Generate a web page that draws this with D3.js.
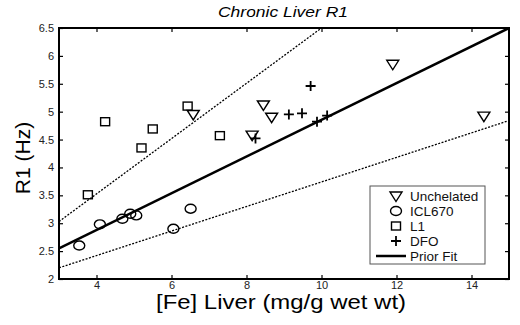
<!DOCTYPE html>
<html>
<head>
<meta charset="utf-8">
<script src="https://cdn.jsdelivr.net/npm/d3@7"></script>
<style>
  body { margin: 0; background: #fff; }
  svg { display: block; font-family: "Liberation Sans", Arial, sans-serif; }
  .tick text { fill: #222; font-size: 11px; }
</style>
</head>
<body>
<div id="chart"></div>
<script>
// data
const unchelated = [
  { fe: 6.58, r1: 4.95 }, { fe: 8.15, r1: 4.58 }, { fe: 8.45, r1: 5.12 },
  { fe: 8.67, r1: 4.90 }, { fe: 11.9, r1: 5.85 }, { fe: 14.33, r1: 4.92 }
];
const icl670 = [
  { fe: 3.54, r1: 2.60 }, { fe: 4.09, r1: 2.98 }, { fe: 4.69, r1: 3.08 },
  { fe: 4.90, r1: 3.17 }, { fe: 5.06, r1: 3.14 }, { fe: 6.05, r1: 2.90 },
  { fe: 6.51, r1: 3.26 }
];
const l1 = [
  { fe: 3.77, r1: 3.51 }, { fe: 4.23, r1: 4.82 }, { fe: 5.20, r1: 4.35 },
  { fe: 5.50, r1: 4.69 }, { fe: 6.43, r1: 5.10 }, { fe: 7.29, r1: 4.57 }
];
const dfo = [
  { fe: 8.24, r1: 4.52 }, { fe: 9.13, r1: 4.95 }, { fe: 9.48, r1: 4.97 },
  { fe: 9.71, r1: 5.46 }, { fe: 9.88, r1: 4.82 }, { fe: 10.15, r1: 4.93 }
];
const priorFit = [{ fe: 3, r1: 2.55 }, { fe: 15, r1: 6.5 }];
const upperBound = [{ fe: 3, r1: 3.03 }, { fe: 10, r1: 6.5 }];
const lowerBound = [{ fe: 3, r1: 2.2 }, { fe: 15, r1: 4.84 }];

const xTicks = [4, 6, 8, 10, 12, 14];
const yTicks = [2, 2.5, 3, 3.5, 4, 4.5, 5, 5.5, 6, 6.5];

const margin = { top: 28, right: 11, bottom: 46, left: 59 };
const W = 520, H = 325;
const width = W - margin.left - margin.right;
const height = H - margin.top - margin.bottom;

const svgEl = d3.select("#chart").append("svg")
  .attr("width", W)
  .attr("height", H);

const svg = svgEl.append("g")
  .attr("transform", `translate(${margin.left},${margin.top})`);

const x = d3.scaleLinear().domain([3, 15]).range([0, width]);
const y = d3.scaleLinear().domain([2, 6.5]).range([height, 0]);

svg.append("defs").append("clipPath").attr("id", "clip")
  .append("rect").attr("width", width).attr("height", height);

// axes, ticks pointing inward, mirrored on top/right
const tk = 4;
svg.append("g")
  .attr("transform", `translate(0,${height})`)
  .call(d3.axisBottom(x).tickValues(xTicks).tickSizeInner(-tk).tickSizeOuter(0).tickPadding(2))
  .call(g => g.select(".domain").remove());
svg.append("g")
  .call(d3.axisTop(x).tickValues(xTicks).tickSizeInner(-tk).tickSizeOuter(0).tickFormat(""))
  .call(g => g.select(".domain").remove());
svg.append("g")
  .call(d3.axisLeft(y).tickValues(yTicks).tickSizeInner(-tk).tickSizeOuter(0).tickPadding(5).tickFormat(d => String(d)))
  .call(g => g.select(".domain").remove());
svg.append("g")
  .attr("transform", `translate(${width},0)`)
  .call(d3.axisRight(y).tickValues(yTicks).tickSizeInner(-tk).tickSizeOuter(0).tickFormat(""))
  .call(g => g.select(".domain").remove());
svg.selectAll(".tick line").attr("stroke", "#000").attr("stroke-width", 1.2);

svg.append("rect")
  .attr("width", width).attr("height", height)
  .attr("fill", "none").attr("stroke", "#000").attr("stroke-width", 2);

const line = d3.line().x(d => x(d.fe)).y(d => y(d.r1));
const plot = svg.append("g").attr("clip-path", "url(#clip)");

plot.append("path").datum(upperBound)
  .attr("d", line).attr("fill", "none").attr("stroke", "#000")
  .attr("stroke-width", 1.3).attr("stroke-dasharray", "2,1.5");
plot.append("path").datum(lowerBound)
  .attr("d", line).attr("fill", "none").attr("stroke", "#000")
  .attr("stroke-width", 1.3).attr("stroke-dasharray", "2,1.5");
plot.append("path").datum(priorFit)
  .attr("d", line).attr("fill", "none").attr("stroke", "#000")
  .attr("stroke-width", 2.5);

const markerStyle = sel => sel.attr("fill", "none").attr("stroke", "#000").attr("stroke-width", 1.4);

function triangle(g) {
  g.append("path").attr("d", "M-6,-4 L6,-4 L0,5.5 Z").call(markerStyle);
}
function circle(g) {
  g.append("ellipse").attr("rx", 5.5).attr("ry", 4.5).call(markerStyle);
}
function square(g) {
  g.append("rect").attr("x", -4.5).attr("y", -4).attr("width", 9).attr("height", 8).call(markerStyle);
}
function plus(g) {
  g.append("path").attr("d", "M-5,0 L5,0 M0,-5 L0,5").call(markerStyle).attr("stroke-width", 1.8);
}

const groups = [
  { data: unchelated, draw: triangle, label: "Unchelated" },
  { data: icl670, draw: circle, label: "ICL670" },
  { data: l1, draw: square, label: "L1" },
  { data: dfo, draw: plus, label: "DFO" }
];

groups.forEach(grp => {
  svg.append("g").selectAll("g")
    .data(grp.data)
    .join("g")
    .attr("transform", d => `translate(${x(d.fe)},${y(d.r1)})`)
    .each(function () { grp.draw(d3.select(this)); });
});

// legend
const legend = svg.append("g")
  .attr("transform", `translate(${370 - margin.left},${186 - margin.top})`);
legend.append("rect")
  .attr("width", 115).attr("height", 78)
  .attr("fill", "#fff").attr("stroke", "#555").attr("stroke-width", 1);

const legendItems = groups.map(g => ({ label: g.label, draw: g.draw }))
  .concat([{ label: "Prior Fit", draw: g => g.append("line").attr("x1", -20).attr("x2", 10).attr("stroke", "#000").attr("stroke-width", 2.5) }]);

legendItems.forEach((item, i) => {
  const row = legend.append("g").attr("transform", `translate(26,${10 + i * 15})`);
  item.draw(row);
  row.append("text")
    .attr("x", 14).attr("y", 4.5)
    .attr("font-size", 13.5)
    .attr("fill", "#111")
    .text(item.label);
});

// labels
svgEl.append("text")
  .attr("x", 283).attr("y", 17)
  .attr("text-anchor", "middle")
  .attr("font-size", 15).attr("font-style", "italic")
  .attr("textLength", 130).attr("lengthAdjust", "spacingAndGlyphs")
  .text("Chronic Liver R1");

svgEl.append("text")
  .attr("x", 281).attr("y", 309)
  .attr("text-anchor", "middle")
  .attr("font-size", 20)
  .attr("textLength", 250).attr("lengthAdjust", "spacingAndGlyphs")
  .text("[Fe] Liver (mg/g wet wt)");

svgEl.append("text")
  .attr("transform", `translate(30,158) rotate(-90)`)
  .attr("text-anchor", "middle")
  .attr("font-size", 21)
  .text("R1 (Hz)");
</script>
</body>
</html>
